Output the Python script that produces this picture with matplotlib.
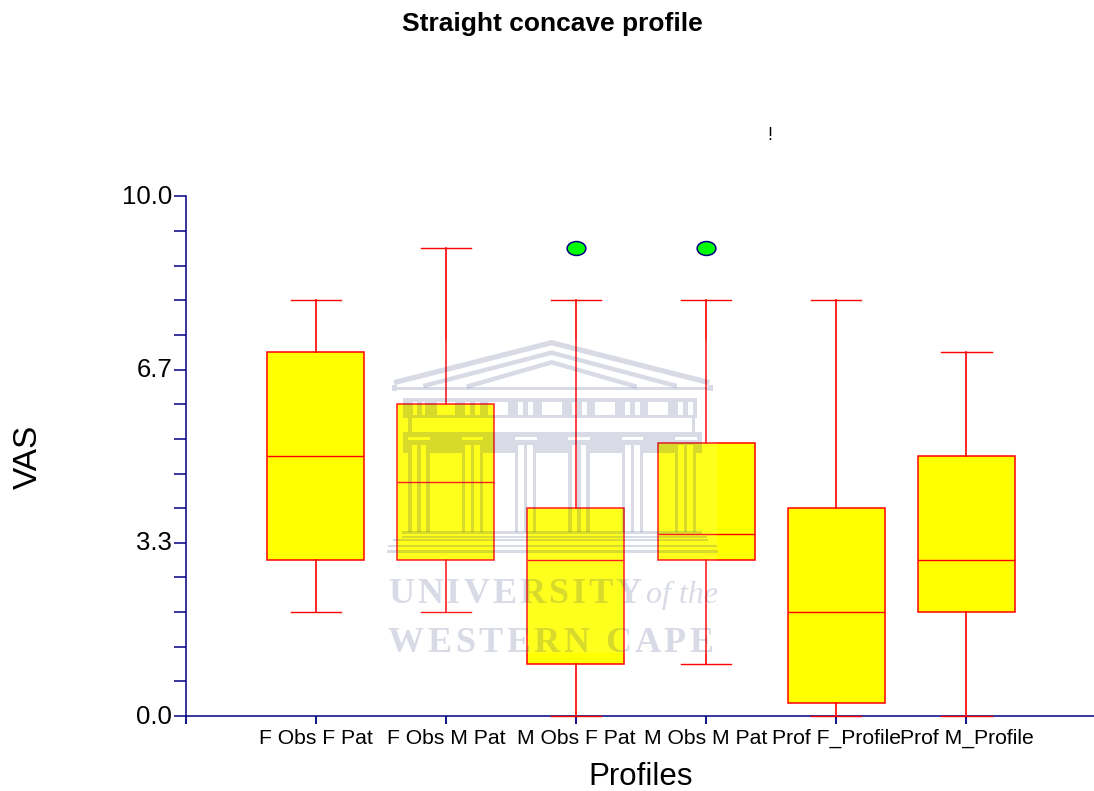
import matplotlib
matplotlib.use("Agg")
import matplotlib.pyplot as plt
from matplotlib.font_manager import FontProperties
from matplotlib.patches import Rectangle
from matplotlib.path import Path
from matplotlib.textpath import text_to_path
from matplotlib.transforms import Affine2D

plt.rcParams['font.family'] = ['Liberation Sans', 'DejaVu Sans']

profiles = ["F Obs F Pat", "F Obs M Pat", "M Obs F Pat", "M Obs M Pat", "Prof F_Profile", "Prof M_Profile"]
whisker_low = [2.0, 2.0, 0.0, 1.0, 0.0, 0.0]
quartile_1 = [3.0, 3.0, 1.0, 3.0, 0.25, 2.0]
medians = [5.0, 4.5, 3.0, 3.5, 2.0, 3.0]
quartile_3 = [7.0, 6.0, 4.0, 5.25, 4.0, 5.0]
whisker_high = [8.0, 9.0, 8.0, 8.0, 8.0, 7.0]
outliers = [[], [], [9.0], [9.0], [], []]

y_major = [0.0, 10 / 3, 20 / 3, 10.0]
y_major_labels = ["0.0", "3.3", "6.7", "10.0"]
y_minor = [10 * i / 15 for i in range(16)]

NAVY = '#000080'
RED = '#ff0000'


def draw_watermark(fig):
    # the logo sits on top of the chart, so it gets its own pixel-sized axes
    wm = fig.add_axes([0, 0, 1, 1], zorder=10)
    wm.set_xlim(0, 1094)
    wm.set_ylim(791, 0)
    wm.axis('off')
    wm.patch.set_alpha(0)

    ink = '#1a2670'
    alpha = 0.17
    wm.add_patch(Rectangle((388, 340), 329, 313, color='white', alpha=0.12, lw=0))

    def zx(v):
        return 380 + v / 3

    def zy(v):
        return 330 + v / 3

    def band(x, y, w, h):
        wm.add_patch(Rectangle((zx(x), zy(y)), w / 3, h / 3, color=ink, alpha=alpha, lw=0))

    # pediment
    for pts, lw in [([(42, 158), (515, 38), (988, 158)], 3.8),
                    ([(130, 168), (515, 68), (890, 168)], 3.2),
                    ([(260, 170), (515, 97), (770, 170)], 3.2)]:
        wm.plot([zx(p[0]) for p in pts], [zy(p[1]) for p in pts], color=ink, alpha=alpha, lw=lw,
                solid_joinstyle='miter', solid_capstyle='butt')
    band(35, 165, 15, 18)
    band(985, 165, 15, 18)
    band(50, 172, 935, 8)

    # frieze, grey with white windows in it
    band(70, 205, 880, 10)
    band(70, 255, 880, 10)
    for left, w in [(70, 30), (110, 15), (135, 35)]:
        band(left, 215, w, 40)
    for left in [225, 385, 545, 705, 865]:
        band(left, 215, 30, 40)
        band(left + 45, 215, 15, 40)
        band(left + 75, 215, 25 if left < 865 else 10, 40)
    band(85, 265, 10, 40)
    band(935, 265, 10, 40)

    # architrave, the slots above the columns stay white
    band(70, 305, 895, 15)
    band(70, 330, 895, 15)
    lefts = [90, 250, 410, 570, 730, 890]
    prev = 70
    for left in lefts:
        band(prev, 320, left - 5 - prev, 10)
        band(prev, 345, left + 5 - prev, 25)
        band(left + 22, 345, 10, 25)
        prev = left + 60
        band(left + 49, 345, 11, 25)
    band(prev, 320, 965 - prev, 10)
    band(prev, 345, 965 - prev, 25)

    # columns
    for left in lefts:
        band(left - 5, 370, 10, 235)
        band(left + 22, 370, 10, 235)
        band(left + 49, 370, 10, 235)

    # steps
    band(65, 603, 900, 8)
    band(65, 617, 915, 7)
    band(40, 628, 945, 6)
    band(25, 645, 985, 6)
    band(20, 660, 995, 8)

    # lettering, spaced out one glyph at a time
    letters = FontProperties(family='Liberation Serif', weight='bold', size=26)

    def spaced(x, y, s, gap):
        for ch in s:
            w = text_to_path.get_text_width_height_descent(ch, letters, False)[0] * 100 / 72
            if ch != " ":
                wm.text(x, y, ch, fontproperties=letters, color=ink, alpha=alpha, ha='left', va='baseline')
            x += w + gap

    spaced(388, 603, "UNIVERSITY", 3.0)
    spaced(388, 652, "WESTERN CAPE", 3.4)
    wm.text(646, 603, "of the", family='Liberation Serif', style='italic', fontsize=23,
            color=ink, alpha=alpha, ha='left', va='baseline')


def main():
    fig = plt.figure(figsize=(10.94, 7.91), dpi=100)
    ax = fig.add_axes([185.5 / 1094, 1 - 716 / 791, 1 - 185.5 / 1094, (716 - 196.5) / 791])

    stats = []
    for i, name in enumerate(profiles):
        stats.append({
            'label': name,
            'whislo': whisker_low[i],
            'q1': quartile_1[i],
            'med': medians[i],
            'q3': quartile_3[i],
            'whishi': whisker_high[i],
            'fliers': outliers[i],
        })

    oval = Affine2D().scale(1.35, 1).transform_path(Path.unit_circle())
    parts = ax.bxp(stats, positions=range(1, 7), widths=0.745, patch_artist=True,
                   boxprops=dict(facecolor='yellow', edgecolor=RED, linewidth=1.1),
                   medianprops=dict(color=RED, linewidth=1.0),
                   whiskerprops=dict(color=RED, linewidth=1.2),
                   capprops=dict(color=RED, linewidth=1.0),
                   capwidths=0.385,
                   flierprops=dict(marker=oval, markersize=13.5, markerfacecolor='#00ff00',
                                   markeredgecolor=NAVY, markeredgewidth=1.1),
                   zorder=3)
    for group in parts.values():
        for artist in group:
            artist.set_clip_on(False)

    ax.set_xlim(0, 6.98)
    ax.set_ylim(0, 10)
    ax.spines['top'].set_visible(False)
    ax.spines['right'].set_visible(False)
    ax.spines['left'].set_color(NAVY)
    ax.spines['bottom'].set_color(NAVY)
    ax.spines['left'].set_linewidth(1.1)
    ax.spines['bottom'].set_linewidth(1.1)

    ax.set_xticks(range(0, 7), [""] + profiles, fontsize=15.2)
    ax.set_yticks(y_major, y_major_labels, fontsize=18.5)
    ax.set_yticks(y_minor, minor=True)
    ax.tick_params(axis='x', length=6, width=1.3, color=NAVY, pad=3)
    ax.tick_params(axis='y', which='both', length=8.5, width=1.1, color=NAVY, pad=1)
    for label in ax.get_yticklabels():
        label.set_transform(label.get_transform() + Affine2D().translate(0, 2))

    fig.text(552 / 1094, 1 - 24 / 791, "Straight concave profile", fontsize=19, fontweight='bold',
             ha='center', va='center')
    fig.text(641 / 1094, 1 - 777 / 791, "Profiles", fontsize=22.5, ha='center', va='center')
    fig.text(28 / 1094, 1 - 457 / 791, "VAS", fontsize=24, rotation=90, ha='center', va='center')
    # leftover scrap of clipped text in the original
    fig.text(770 / 1094, 1 - 135 / 791, "!", fontsize=13, ha='center', va='center')

    draw_watermark(fig)

    fig.savefig("out.png", dpi=100)
    plt.close(fig)


if __name__ == "__main__":
    main()
